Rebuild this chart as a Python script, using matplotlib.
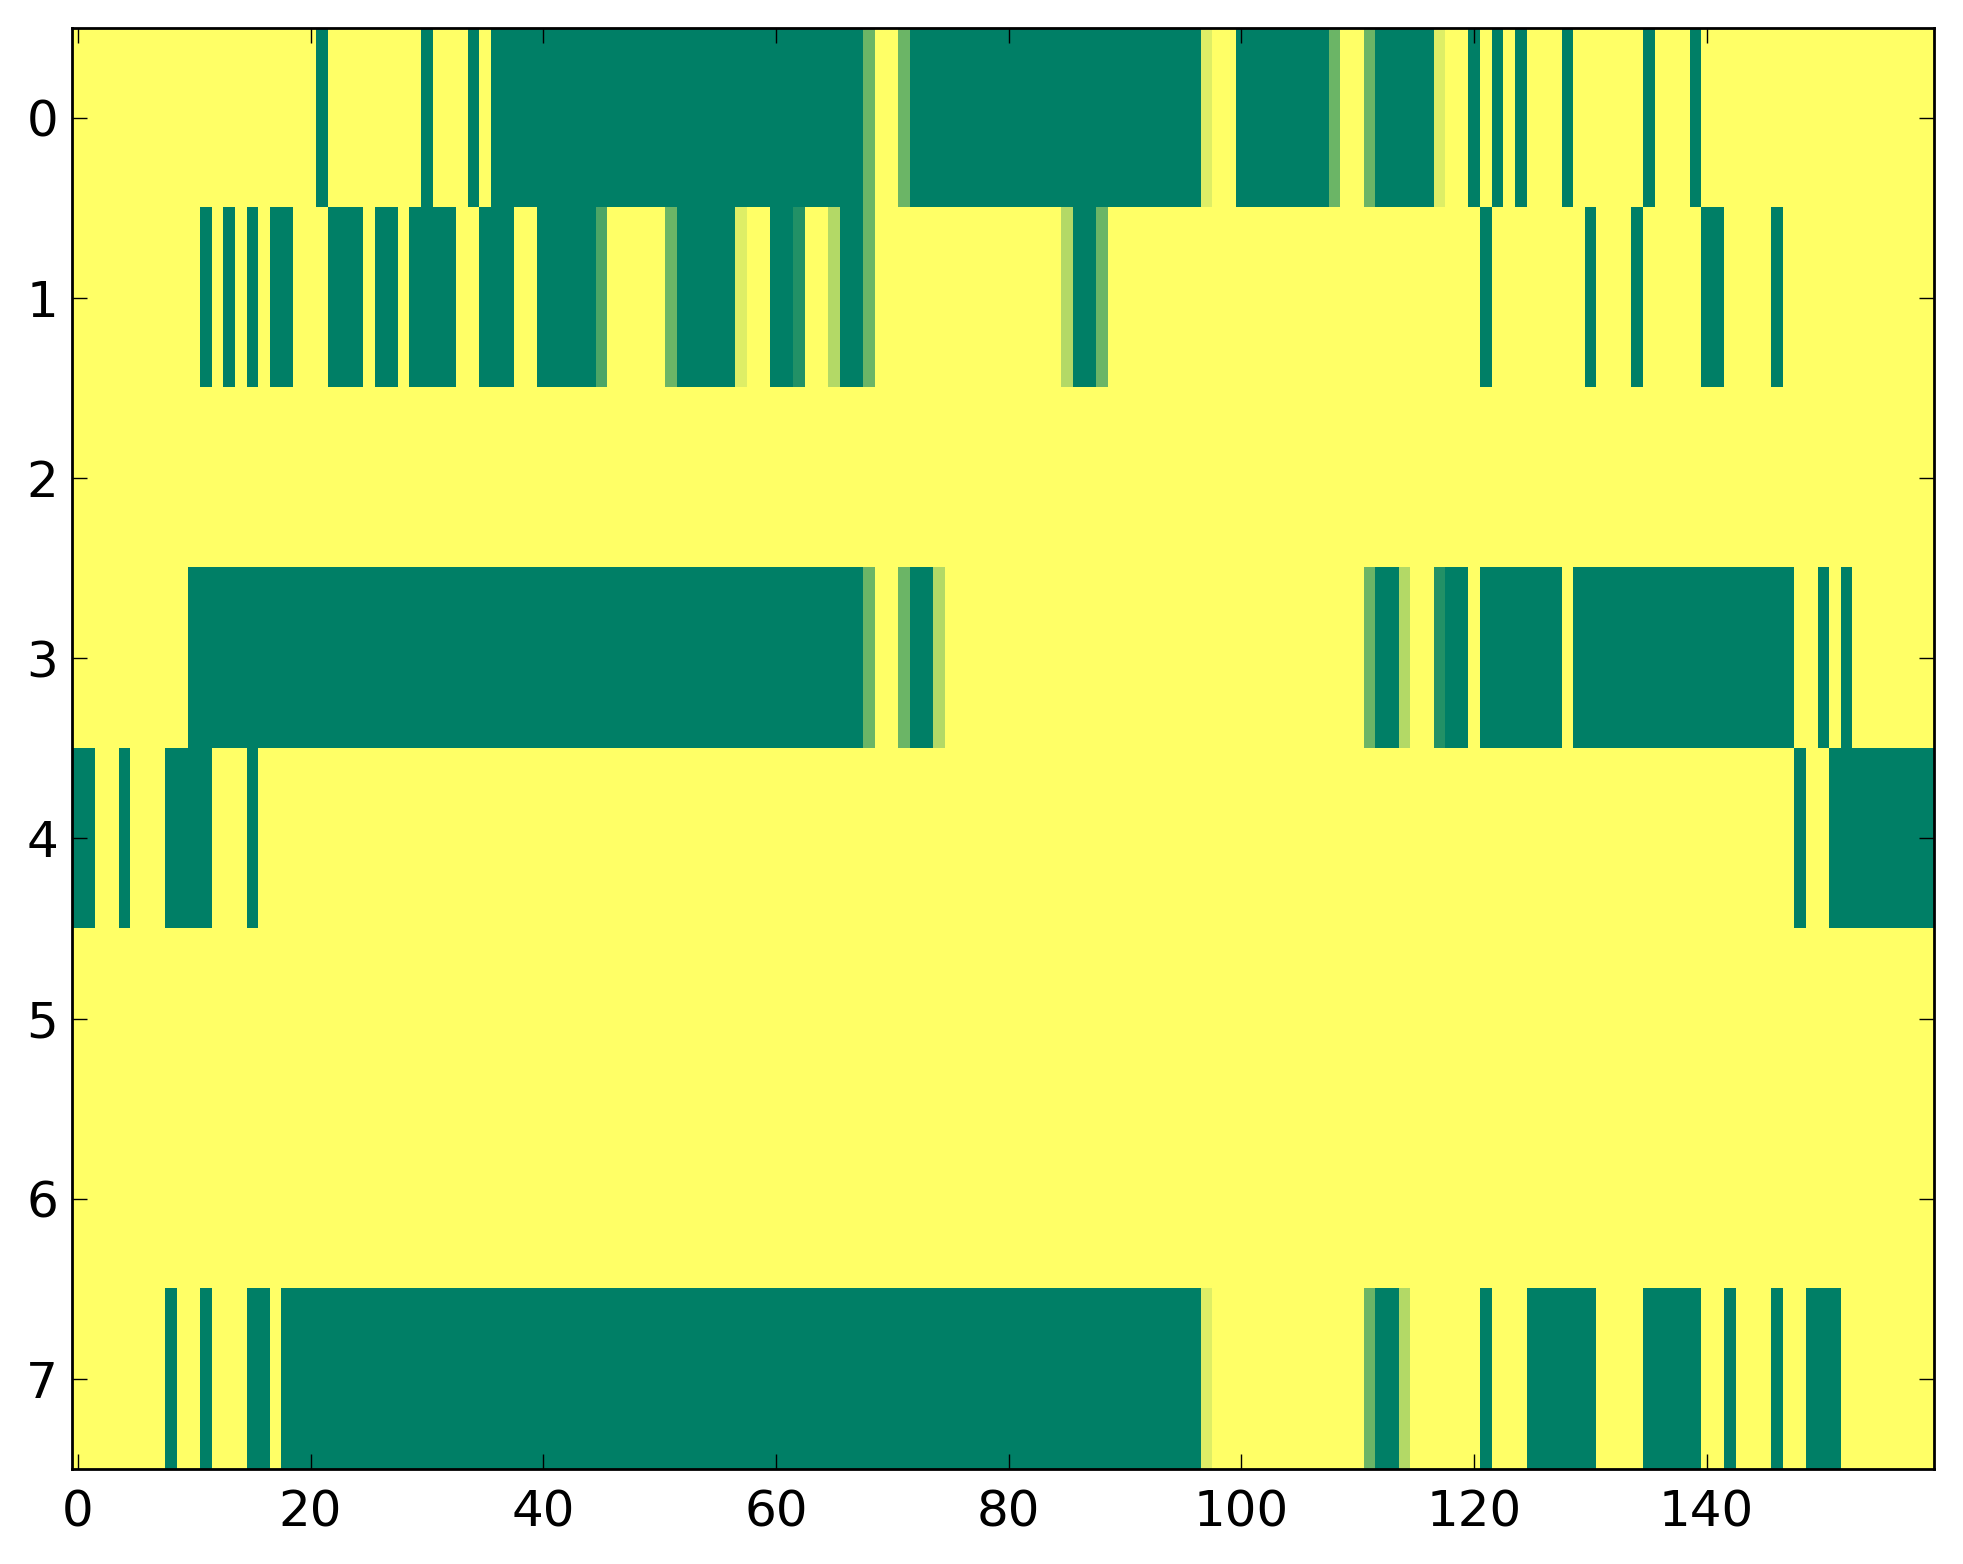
import numpy as np
import matplotlib
matplotlib.use("Agg")
import matplotlib.pyplot as plt

n_cols = 160
n_rows = 8

# runs of (first column, last column, value) for each row, everything else is 0
row_0 = [(21, 21, 1), (30, 30, 1), (34, 34, 1), (36, 67, 1), (68, 68, 0.58),
         (71, 71, 0.58), (72, 96, 1), (97, 97, 0.13), (100, 107, 1), (108, 108, 0.58),
         (111, 111, 0.58), (112, 116, 1), (117, 117, 0.13), (120, 120, 1), (122, 122, 1),
         (124, 124, 1), (128, 128, 1), (135, 135, 1), (139, 139, 1)]
row_1 = [(11, 11, 1), (13, 13, 1), (15, 15, 1), (17, 18, 1), (22, 24, 1), (26, 27, 1),
         (29, 32, 1), (35, 37, 1), (40, 44, 1), (45, 45, 0.7), (51, 51, 0.58), (52, 56, 1),
         (57, 57, 0.13), (60, 61, 1), (62, 62, 0.86), (65, 65, 0.3), (66, 67, 1),
         (68, 68, 0.58), (85, 85, 0.3), (86, 87, 1), (88, 88, 0.58), (121, 121, 1),
         (130, 130, 1), (134, 134, 1), (140, 141, 1), (146, 146, 1)]
row_2 = []
row_3 = [(10, 67, 1), (68, 68, 0.58), (71, 71, 0.58), (72, 73, 1), (74, 74, 0.3),
         (111, 111, 0.58), (112, 113, 1), (114, 114, 0.3), (117, 117, 0.86), (118, 119, 1),
         (121, 127, 1), (129, 147, 1), (150, 150, 1), (152, 152, 1)]
row_4 = [(0, 1, 1), (4, 4, 1), (8, 11, 1), (15, 15, 1), (148, 148, 1), (151, 159, 1)]
row_5 = []
row_6 = []
row_7 = [(8, 8, 1), (11, 11, 1), (15, 16, 1), (18, 96, 1), (97, 97, 0.13),
         (111, 111, 0.58), (112, 113, 1), (114, 114, 0.3), (121, 121, 1), (125, 130, 1),
         (135, 139, 1), (142, 142, 1), (146, 146, 1), (149, 151, 1)]

rows = [row_0, row_1, row_2, row_3, row_4, row_5, row_6, row_7]
grid = np.zeros((n_rows, n_cols))
for r, runs in enumerate(rows):
    for a, b, v in runs:
        grid[r, a:b + 1] = v

plt.rcParams['font.family'] = ['DejaVu Sans']

fig = plt.figure(figsize=(1963 / 200, 1564 / 200), dpi=200)
ax = fig.add_axes([0.0367, 0.0608, 0.9483, 0.9215])
ax.imshow(grid, cmap='summer_r', vmin=0, vmax=1, aspect='auto', interpolation='nearest')

ax.set_xticks(np.arange(0, 160, 20))
ax.set_yticks(np.arange(0, 8))
ax.tick_params(direction='in', top=True, right=True, length=5.5, width=0.5, labelsize=18)
ax.tick_params(axis='x', pad=7)
ax.tick_params(axis='y', pad=5)
for s in ax.spines.values():
    s.set_linewidth(1.0)

fig.savefig("out.png", dpi=200, facecolor='white')
